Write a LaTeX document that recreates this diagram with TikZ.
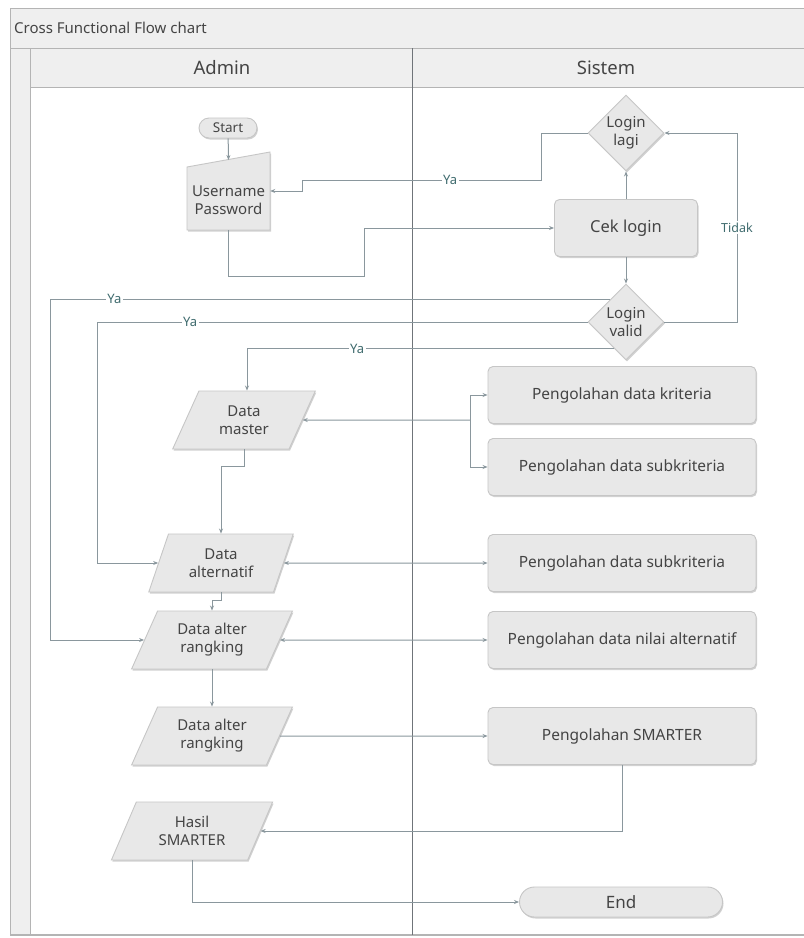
\documentclass[tikz,border=0pt]{standalone}
\usepackage{fontspec}
\setmainfont{Noto Sans}
\usetikzlibrary{shapes.geometric,arrows.meta,calc,shadows}
\definecolor{linec}{HTML}{8A979D}
\definecolor{shapefill}{HTML}{E8E8E8}
\definecolor{shapeline}{HTML}{C6C6C6}
\definecolor{txt}{HTML}{444444}
\definecolor{lblc}{HTML}{3F6B6E}
\definecolor{band}{HTML}{EFEFEF}
\definecolor{framec}{HTML}{B4B4B4}
\definecolor{lanec}{HTML}{6F7479}
\newcommand\fsz[1]{\fontsize{#1pt}{\dimexpr #1pt*6/5\relax}\selectfont}
\begin{document}
\begin{tikzpicture}[x=1pt,y=-1pt,
  every node/.style={text=txt},
  conn/.style={draw=linec, line width=1pt},
  arr/.style={conn, -{Stealth[length=5pt,width=4pt]}},
  arrb/.style={conn, {Stealth[length=5pt,width=4pt]}-{Stealth[length=5pt,width=4pt]}},
  shp/.style={draw=shapeline, fill=shapefill, line width=0.9pt,
    drop shadow={shadow xshift=1pt, shadow yshift=-1.5pt, opacity=0.18, fill=black}},
  proc/.style={shp, rectangle, rounded corners=5pt, minimum width=268pt, minimum height=57pt, font=\fsz{15.5}},
  term/.style={shp, rectangle, inner sep=0pt, font=\fsz{14}},
  decision/.style={shp, diamond, minimum width=76pt, minimum height=76pt, inner sep=0pt, align=center, font=\fsz{15}},
  para/.style={shp, trapezium, trapezium left angle=64, trapezium right angle=116, trapezium stretches=true,
    minimum height=58pt, inner sep=1pt, align=center, font=\fsz{15}},
  ylbl/.style={fill=white, inner sep=1.5pt, text=lblc, font=\fsz{13}},
]
\useasboundingbox (0,0) rectangle (804,938);
% ---------- frame ----------
\fill[white] (10,8) rectangle (806,935);
\fill[band] (10,8) rectangle (806,48);
\fill[band] (10,48) rectangle (30,935);
\fill[band] (30,48) rectangle (806,87);
\draw[framec, line width=1pt] (10,48) -- (806,48);
\draw[framec, line width=1pt] (30,87) -- (806,87);
\draw[framec, line width=1pt] (30,48) -- (30,935);
\draw[framec, line width=1pt] (10,8) rectangle (806,935);
\draw[framec, line width=2.5pt] (10,935) -- (806,935);
\draw[lanec, line width=1pt] (412,48) -- (412,935);
\node[anchor=west, font=\fsz{15}, inner sep=0pt] (title) at (14,28) {Cross Functional Flow chart};
\node[font=\fsz{18.5}] (hadmin) at (222,68) {Admin};
\node[font=\fsz{18.5}] (hsistem) at (606,68) {Sistem};

% ---------- nodes ----------
\node[term, minimum width=58pt, minimum height=20pt, rounded corners=10pt, font=\fsz{13.5}] (start) at (228,128) {Start};
\filldraw[shp] (187,167) -- (270,152) -- (270,230) -- (187,230) -- cycle;
\node[rectangle, minimum width=83pt, minimum height=78pt, inner sep=0pt,
  label={[yshift=-9pt, align=center, font=\fsz{15}]center:Username\\Password}] (up) at (228.5,191) {};
\coordinate (uptop) at (228.5,160);

\node[decision] (ll) at (626,133) {Login\\lagi};
\node[proc, minimum width=143pt, font=\fsz{16.5}] (cek) at (626,228) {Cek login};
\node[decision] (lv) at (626,322) {Login\\valid};

\node[proc] (pk) at (622,395) {Pengolahan data kriteria};
\node[proc] (ps) at (622,467) {Pengolahan data subkriteria};
\node[proc] (ps2) at (622,563) {Pengolahan data subkriteria};
\node[proc] (pn) at (622,640) {Pengolahan data nilai alternatif};
\node[proc] (psm) at (622,736) {Pengolahan SMARTER};
\node[term, minimum width=203pt, minimum height=30pt, rounded corners=15pt, font=\fsz{17}] (endn) at (621,902) {End};

\node[para, minimum width=143pt] (dm) at (244,420) {Data\\master};
\node[para, minimum width=145pt, trapezium left angle=68, trapezium right angle=112] (dalt) at (221,563) {Data\\alternatif};
\node[para, minimum width=161pt] (dar1) at (212,640) {Data alter\\rangking};
\node[para, minimum width=161pt] (dar2) at (212,736) {Data alter\\rangking};
\node[para, minimum width=162pt] (hasil) at (192,831) {Hasil\\SMARTER};

\coordinate (xL1) at (50,0);
\coordinate (xL2) at (97,0);
\coordinate (xL3) at (247,0);
\coordinate (br) at (470,420);

% ---------- connectors ----------
\draw[arr] (start) -- (uptop);
\draw[arr] (ll.west) -- (541,133) -- (541,180) -- node[ylbl, pos=0.38] {Ya} (302,180) -- (302,191) -- (up.east);
\draw[arr] (up.south) -- (228.5,276) -- (364,276) -- (364,228) -- (cek.west);
\draw[arr] (cek.north) -- (ll.south);
\draw[arr] (cek.south) -- (lv.north);
\draw[arr] (lv.east) -- (737,322) -- node[ylbl, font=\fsz{12.5}] {Tidak} (737,133) -- (ll.east);

\draw[arr] (lv.125) -- node[ylbl, pos=0.885] {Ya} (lv.125 -| xL1) -- (xL1 |- dar1.west) -- (dar1.west);
\draw[arr] (lv.west) -- node[ylbl, pos=0.81] {Ya} (lv.west -| xL2) -- (xL2 |- dalt.west) -- (dalt.west);
\draw[arr] (lv.246) -- node[ylbl, pos=0.70] {Ya} (lv.246 -| xL3) -- (xL3 |- dm.north);

\draw[arr] (br) -- (dm.east);
\draw[arr] (br) |- (pk.west);
\draw[arr] (br) |- (ps.west);

\draw[arr] (dm.south) -- ++(0,17) -| (dalt.north);
\draw[arrb] (dalt.east) -- (ps2.west);
\draw[arr] (dalt.south) -- ++(0,8) -| (dar1.north);
\draw[arrb] (dar1.east) -- (pn.west);
\draw[arr] (dar1.south) -- (dar2.north);
\draw[arr] (dar2.east) -- (psm.west);
\draw[arr] (psm.south) |- (hasil.east);
\draw[arr] (hasil.south) |- (endn.west);
\end{tikzpicture}
\end{document}
